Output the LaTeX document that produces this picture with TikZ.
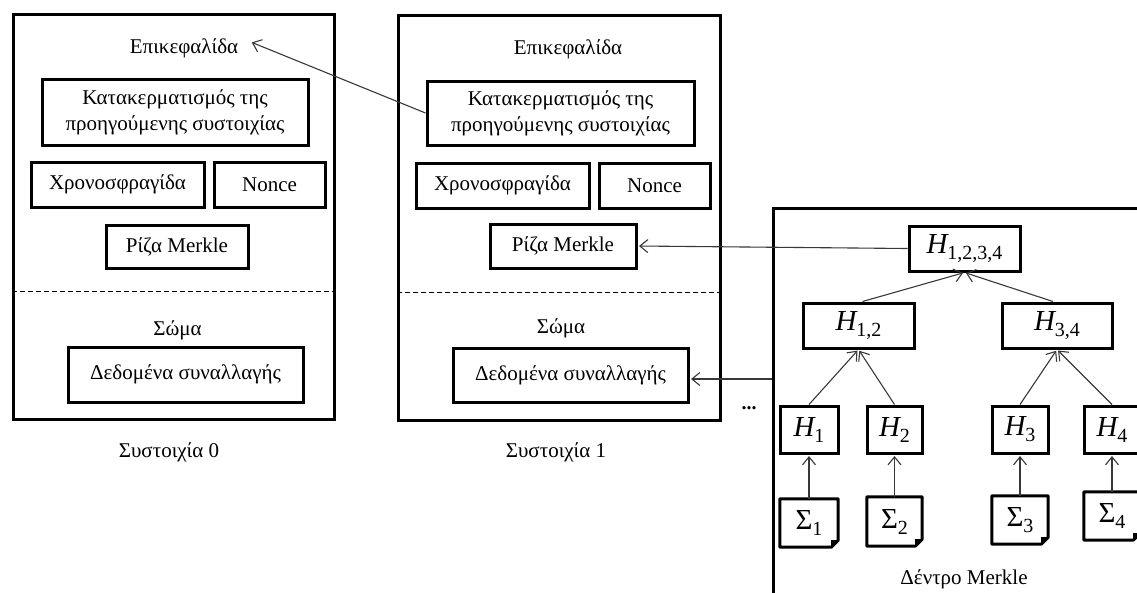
\documentclass[tikz,border=0pt]{standalone}
\usepackage{fontspec}
\setmainfont{Liberation Serif}
\usetikzlibrary{arrows.meta}
% symbol with a lowered, smaller upright subscript
\newcommand{\hsym}[2]{#1\raisebox{-6pt}{\fontsize{20}{20}\selectfont\upshape #2}}
\begin{document}
\begin{tikzpicture}[x=1pt,y=-1pt,
  every node/.style={font=\fontsize{21}{26}\selectfont, inner sep=0pt},
  frame/.style={draw, line width=3pt},
  box/.style={draw, line width=3pt, align=center},
  hbox/.style={draw, line width=3pt, font=\fontsize{29}{29}\selectfont},
  doc/.style={font=\fontsize{29}{29}\selectfont},
  divider/.style={line width=0.9pt, dash pattern=on 5pt off 3pt},
  conn/.style={draw=black!78, line width=1.1pt, shorten >=1.5pt,
    -{Straight Barb[length=8pt,width=13pt]}}
]
\useasboundingbox (0,0) rectangle (1137,592);
\clip (0,0) rectangle (1137,592);

% ---------- block 0 ----------
\node[frame, minimum width=321pt, minimum height=405pt] (b0) at (173.5,216.5) {};
\coordinate (d0) at (0,291);
\draw[divider] (b0.west |- d0) -- (b0.east |- d0);
\node[anchor=base] (head0) at (184,53) {Επικεφαλίδα};
\node[box, minimum width=266pt, minimum height=66pt] (hash0) at (175,112)
  {Κατακερματισμός της\\προηγούμενης συστοιχίας};
\node[box, minimum width=173pt, minimum height=45pt] (time0) at (117.5,184.5) {Χρονοσφραγίδα};
\node[box, minimum width=111pt, minimum height=45pt] (nonce0) at (269.5,184.5) {Nonce};
\node[box, minimum width=142pt, minimum height=43pt] (root0) at (177,246.5) {Ρίζα Merkle};
\node[anchor=base] (body0) at (177.5,335) {Σώμα};
\node[box, minimum width=235pt, minimum height=55pt] (data0) at (185.5,374.5) {Δεδομένα συναλλαγής};
\node[anchor=base] (lab0) at (169,457) {Συστοιχία 0};

% ---------- block 1 ----------
\node[frame, minimum width=322pt, minimum height=405pt] (b1) at (559,217.5) {};
\coordinate (d1) at (0,292);
\draw[divider] (b1.west |- d1) -- (b1.east |- d1);
\node[anchor=base] (head1) at (568,54) {Επικεφαλίδα};
\node[box, minimum width=267pt, minimum height=64pt] (hash1) at (560.5,113)
  {Κατακερματισμός της\\προηγούμενης συστοιχίας};
\node[box, minimum width=173pt, minimum height=45pt] (time1) at (502.5,185.5) {Χρονοσφραγίδα};
\node[box, minimum width=111pt, minimum height=45pt] (nonce1) at (654.5,185.5) {Nonce};
\node[box, minimum width=146pt, minimum height=44pt] (root1) at (563,246) {Ρίζα Merkle};
\node[anchor=base] (body1) at (561,333) {Σώμα};
\node[box, minimum width=235pt, minimum height=54pt] (data1) at (570.5,375) {Δεδομένα συναλλαγής};
\node[anchor=base] (lab1) at (556,457) {Συστοιχία 1};

\node[font=\fontsize{20}{20}\bfseries\selectfont] (dots) at (749,408) {...};

% ---------- Merkle tree ----------
\node[frame, anchor=north west, minimum width=420pt, minimum height=420pt] (mk) at (772,207) {};
\node[hbox, minimum width=111pt, minimum height=45pt] (h1234) at (964.5,248.5) {\hsym{\itshape H}{1,2,3,4}};
\node[hbox, minimum width=111pt, minimum height=45pt] (h12) at (858.5,325.5) {\hsym{\itshape H}{1,2}};
\node[hbox, minimum width=110pt, minimum height=45pt] (h34) at (1057,325.5) {\hsym{\itshape H}{3,4}};
\node[hbox, minimum width=58pt, minimum height=47pt] (h1) at (809,429.5) {\hsym{\itshape H}{1}};
\node[hbox, minimum width=55pt, minimum height=47pt] (h2) at (894.5,429.5) {\hsym{\itshape H}{2}};
\node[hbox, minimum width=56pt, minimum height=47pt] (h3) at (1020,429.5) {\hsym{\itshape H}{3}};
\node[hbox, minimum width=56pt, minimum height=47pt] (h4) at (1112,429.5) {\hsym{\itshape H}{4}};
\node[doc, minimum width=58pt, minimum height=48pt] (s1) at (809,523) {\hsym{Σ}{1}};
\node[doc, minimum width=55pt, minimum height=49pt] (s2) at (894.5,521.5) {\hsym{Σ}{2}};
\node[doc, minimum width=56pt, minimum height=48pt] (s3) at (1020,520) {\hsym{Σ}{3}};
\node[doc, minimum width=56pt, minimum height=48pt] (s4) at (1112,516) {\hsym{Σ}{4}};
% document outlines with a folded lower-right corner
\foreach \n in {s1,s2,s3,s4} {
  \draw[line width=3pt, line join=round]
    (\n.north west) -- (\n.north east) -- ([yshift=7pt]\n.south east)
    -- ([xshift=-7pt]\n.south east) -- (\n.south west) -- cycle;
  \fill ([xshift=-7pt]\n.south east) -- ([yshift=7pt]\n.south east)
    -- ([shift={(-7pt,7pt)}]\n.south east) -- cycle;
}
\node[anchor=base] (tree) at (964,584) {Δέντρο Merkle};

% ---------- connectors ----------
\draw[conn] (hash1.west) -- ([xshift=12pt,yshift=6pt]head0.east);
\draw[conn] (h1234.west) -- (root1.east);
\coordinate (mdata) at (772,379);
\draw[conn] (mdata) -- (mdata -| data1.east);
\draw[conn] ([xshift=4pt]h12.north) -- (h1234.south);
\draw[conn] ([xshift=-4pt]h34.north) -- (h1234.south);
\draw[conn] (h1.north) -- (h12.south);
\draw[conn] (h2.north) -- (h12.south);
\draw[conn] (h3.north) -- (h34.south);
\draw[conn] (h4.north) -- (h34.south);
\draw[conn] (s1.north) -- (h1.south);
\draw[conn] (s2.north) -- (h2.south);
\draw[conn] (s3.north) -- (h3.south);
\draw[conn] (s4.north) -- (h4.south);
\end{tikzpicture}
\end{document}
